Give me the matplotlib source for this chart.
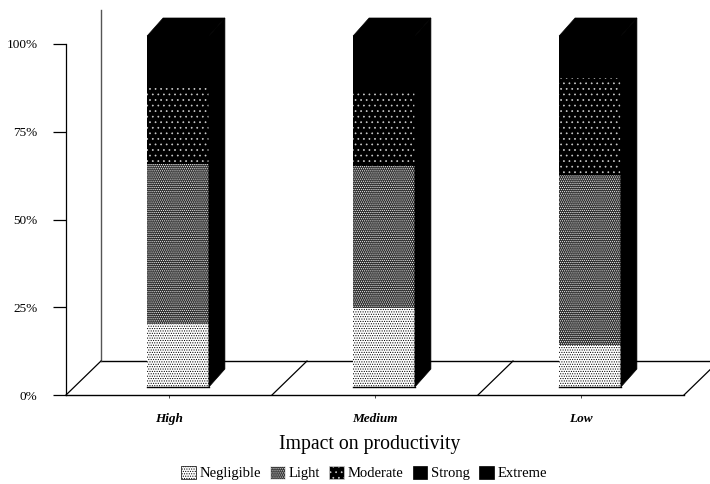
import matplotlib
matplotlib.use('Agg')
import matplotlib.pyplot as plt
from matplotlib.patches import Patch, Polygon
from matplotlib.transforms import offset_copy
import numpy as np

plt.rcParams['font.family'] = ['Liberation Serif', 'DejaVu Serif']
plt.rcParams['hatch.linewidth'] = 0.5

categories = ['High', 'Medium', 'Low']
series = ['Negligible', 'Light', 'Moderate', 'Strong', 'Extreme']
negligible = [18, 22.5, 12]
light = [45.5, 40.5, 48.5]
moderate = [22, 21, 27.5]
strong = [6, 7, 5]
extreme = [8.5, 9, 7]
yticks = [0, 25, 50, 75, 100]

# facecolor, hatch colour, hatch
styles = [('white', 'black', '.......'),
          ('#303030', 'white', '........'),
          ('black', '#cccccc', '...'),
          ('black', 'black', None),
          ('black', 'black', None)]

W, H = 710, 484
fig = plt.figure(figsize=(W / 100, H / 100), dpi=100)
ax = fig.add_axes([66 / W, 1 - 395 / H, 618 / W, 351 / H])
ax.set_xlim(0, 3)
ax.set_ylim(0, 100)
ax.patch.set_visible(False)

front = offset_copy(ax.transData, fig, x=9, y=8, units='dots')
back = offset_copy(ax.transData, fig, x=35, y=34, units='dots')
bar_back = offset_copy(ax.transData, fig, x=25, y=26, units='dots')

# floor and back wall
line_kw = dict(color='black', lw=1.0, clip_on=False)
ax.plot([0, 3], [0, 0], transform=back, **line_kw)
ax.plot([0, 0], [0, 100], transform=back, color='#555555', lw=1.0, clip_on=False)
for x in range(4):
    x0, y0 = ax.transData.transform((x, 0))
    x1, y1 = back.transform((x, 0))
    ax.plot([x0, x1], [y0, y1], transform=None, color='black', lw=0.9, clip_on=False)

# bars
x_pos = np.arange(3) + 0.5
width = 0.3
bottom = np.zeros(3)
values = [negligible, light, moderate, strong, extreme]
for vals, (fc, ec, hatch) in zip(values, styles):
    ax.bar(x_pos, vals, width, bottom=bottom, facecolor=fc, edgecolor=ec,
           hatch=hatch, lw=0, transform=front, zorder=3, clip_on=False)
    bottom = bottom + np.array(vals)

# depth faces of each bar
for i, xc in enumerate(x_pos):
    l, r = xc - width / 2, xc + width / 2
    f_r0 = front.transform((r, 0))
    f_r1 = front.transform((r, bottom[i]))
    f_l1 = front.transform((l, bottom[i]))
    b_r0 = bar_back.transform((r, 0))
    b_r1 = bar_back.transform((r, bottom[i]))
    b_l1 = bar_back.transform((l, bottom[i]))
    ax.add_patch(Polygon([f_r0, b_r0, b_r1, f_r1], closed=True, fc='black', ec='black',
                         lw=0.5, transform=None, zorder=3, clip_on=False))
    ax.add_patch(Polygon([f_l1, b_l1, b_r1, f_r1], closed=True, fc='black', ec='black',
                         lw=0.5, transform=None, zorder=3, clip_on=False))
    # dark rule under the bar front
    ax.plot([l, r], [0, 0], transform=front, color='black', lw=1.0, zorder=4, clip_on=False)

for s in ['top', 'right']:
    ax.spines[s].set_visible(False)
ax.spines['left'].set_linewidth(0.9)
ax.spines['bottom'].set_linewidth(1.0)

ax.set_yticks(yticks)
ax.set_yticklabels([f'{v}%' for v in yticks], fontsize=9.5)
ax.tick_params(axis='y', length=9.5, width=0.9, pad=11)
ax.set_xticks(x_pos)
ax.set_xticklabels(categories, fontsize=9.5, style='italic', fontweight='bold')
ax.tick_params(axis='x', length=2, width=0.5, pad=11)

fig.text(370 / W, 1 - 444 / H, 'Impact on productivity', ha='center', va='center', fontsize=14.2)

handles = [Patch(facecolor=fc, edgecolor='black', hatch=h, lw=0.5) for fc, ec, h in styles]
handles[1] = Patch(facecolor='#303030', edgecolor='white', hatch='........', lw=0.5)
handles[2] = Patch(facecolor='black', edgecolor='#cccccc', hatch='...', lw=0.5)
fig.legend(handles, series, loc='center', bbox_to_anchor=(364 / W, 1 - 473 / H), ncols=5,
           frameon=False, fontsize=10.5, handlelength=1.0, handleheight=1.0,
           handletextpad=0.25, columnspacing=0.65, borderpad=0)

fig.savefig('out.png', dpi=100)
